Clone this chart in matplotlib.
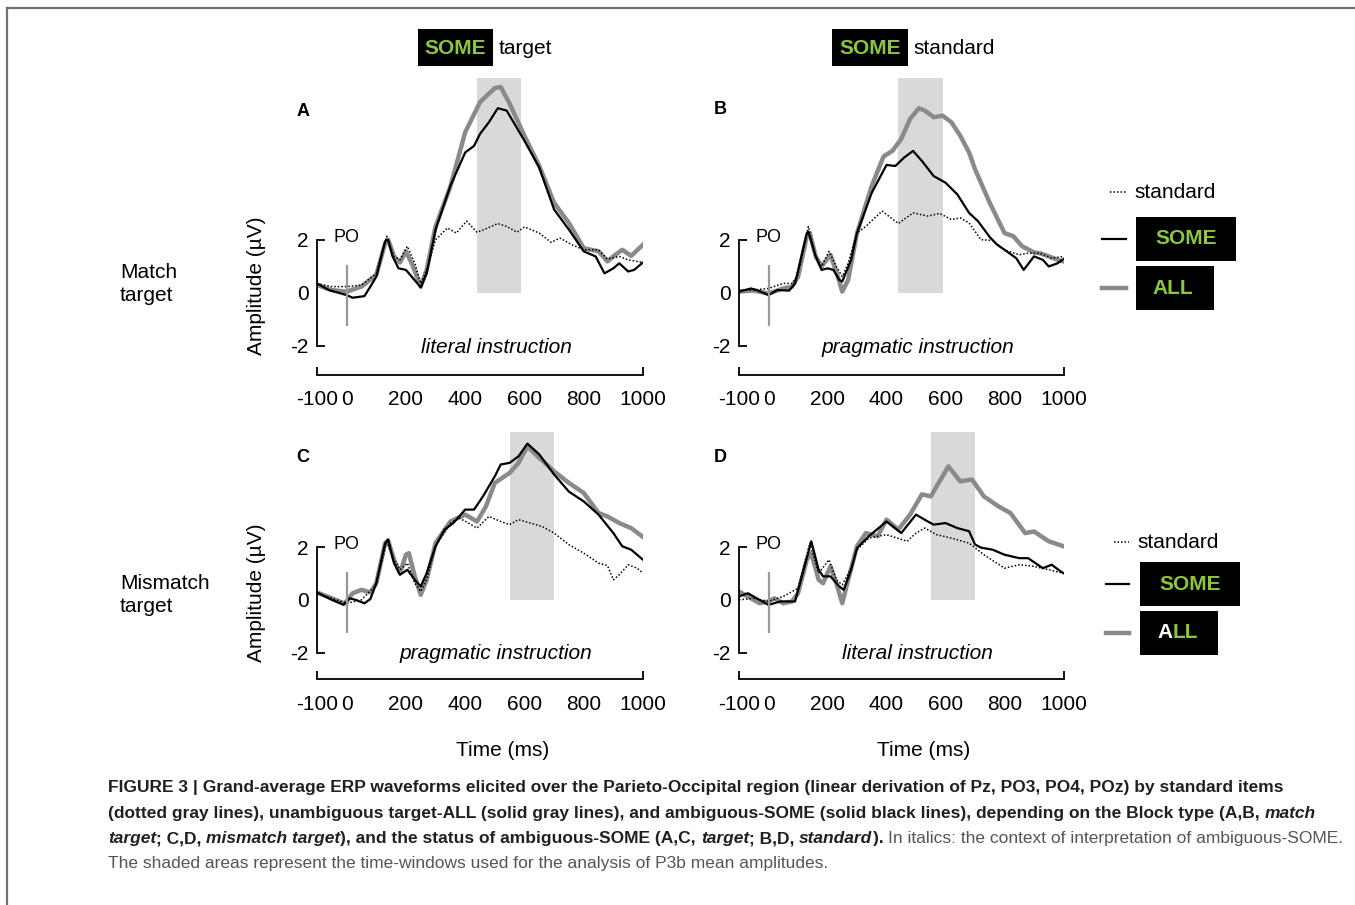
import matplotlib
matplotlib.use('Agg')
import matplotlib.pyplot as plt
from matplotlib.lines import Line2D
from matplotlib.patches import Rectangle
from matplotlib import font_manager

plt.rcParams['font.family'] = ['Liberation Sans', 'DejaVu Sans']

# ---- data (time in ms, amplitude in microvolts) ----
A_all_ms = [-100, -50, 0, 50, 100, 130, 140, 160, 180, 200, 220, 250, 270, 300, 350, 400, 450, 500, 520, 550,
            600, 650, 700, 750, 800, 850, 880, 900, 930, 960, 1000]
A_all_uv = [0.29, 0.1, 0.04, 0.23, 0.67, 1.87, 2.0, 1.37, 1.14, 1.56, 1.1, 0.23, 0.86, 2.5, 4.0, 6.05, 7.19, 7.72, 7.76, 7.13,
            5.92, 4.78, 3.39, 2.63, 1.68, 1.56, 1.18, 1.37, 1.62, 1.39, 1.81]
A_some_ms = [-100, -60, 0, 20, 60, 80, 100, 130, 140, 155, 175, 200, 220, 250, 270, 300, 350, 400, 430, 450,
             480, 510, 540, 560, 600, 650, 700, 750, 800, 840, 870, 900, 920, 950, 970, 1000]
A_some_uv = [0.35, 0.1, -0.09, -0.19, -0.13, 0.23, 0.6, 1.94, 2.0, 1.37, 0.92, 0.86, 0.6, 0.2, 0.73, 2.38, 4.03, 5.29, 5.54, 5.99,
             6.43, 6.96, 6.87, 6.49, 5.73, 4.72, 3.14, 2.38, 1.56, 1.37, 0.73, 0.92, 1.11, 0.8, 0.86, 1.14]
A_std_ms = [-100, -50, 0, 50, 100, 135, 160, 180, 205, 230, 250, 270, 300, 340, 370, 405, 440, 470, 510, 540,
            575, 600, 650, 690, 720, 760, 800, 850, 880, 920, 950, 1000]
A_std_uv = [0.35, 0.23, 0.23, 0.29, 0.73, 2.13, 1.37, 1.24, 1.75, 1.11, 0.35, 0.86, 2.0, 2.44, 2.25, 2.7, 2.28, 2.41, 2.61, 2.5,
            2.28, 2.48, 2.25, 1.9, 2.06, 1.81, 1.62, 1.62, 1.27, 1.37, 1.24, 1.14]

B_all_ms = [-100, -50, 0, 50, 80, 100, 130, 140, 160, 180, 210, 235, 250, 270, 300, 350, 390, 420, 450, 480,
            510, 530, 560, 590, 620, 650, 680, 700, 750, 800, 830, 860, 900, 920, 950, 980, 1000]
B_all_uv = [0.04, 0.08, -0.03, 0.16, 0.23, 0.6, 2.13, 2.25, 1.37, 0.99, 1.43, 0.61, 0.04, 0.48, 2.25, 4.03, 5.14, 5.35, 5.8, 6.56,
            6.96, 6.87, 6.62, 6.68, 6.43, 5.92, 5.29, 4.66, 3.39, 2.25, 2.13, 1.75, 1.52, 1.49, 1.37, 1.24, 1.18]
B_some_ms = [-100, -60, -40, 0, 30, 70, 90, 130, 135, 160, 180, 200, 220, 240, 250, 280, 300, 350, 400, 430,
             460, 490, 520, 560, 600, 640, 680, 710, 750, 775, 800, 840, 865, 900, 930, 950, 980, 1000]
B_some_uv = [0.04, 0.16, 0.1, -0.09, 0.1, 0.08, 0.35, 2.25, 2.3, 1.37, 0.86, 0.92, 0.86, 0.48, 0.42, 1.24, 2.25, 3.77, 4.82, 4.78,
             5.1, 5.35, 4.97, 4.4, 4.15, 3.71, 3.01, 2.7, 2.1, 1.81, 1.62, 1.3, 0.86, 1.37, 1.24, 0.99, 1.11, 1.27]
B_std_ms = [-100, -50, 0, 50, 80, 100, 135, 160, 180, 205, 230, 250, 270, 300, 330, 385, 440, 490, 540, 580,
            620, 650, 680, 720, 760, 800, 850, 880, 920, 960, 1000]
B_std_uv = [0.1, 0.1, 0.16, 0.35, 0.35, 0.67, 2.5, 1.37, 0.99, 1.56, 0.99, 0.61, 1.11, 2.25, 2.5, 3.08, 2.61, 3.01, 2.89, 2.99,
            2.76, 2.82, 2.63, 2.0, 1.97, 1.62, 1.43, 1.49, 1.49, 1.3, 1.37]

C_all_ms = [-100, -50, -10, 0, 20, 50, 80, 100, 130, 140, 160, 180, 200, 210, 230, 250, 270, 300, 350, 400,
            440, 470, 500, 550, 580, 610, 650, 700, 750, 800, 850, 880, 920, 960, 1000]
C_all_uv = [0.28, 0.06, -0.13, -0.06, 0.25, 0.38, 0.28, 0.63, 2.15, 2.25, 1.52, 1.01, 1.71, 1.77, 0.89, 0.19, 0.76, 2.15, 2.97, 3.23,
            2.97, 3.54, 4.43, 4.81, 5.19, 5.82, 5.38, 4.87, 4.43, 4.05, 3.29, 3.16, 2.91, 2.72, 2.38]
C_some_ms = [-100, -50, -10, 10, 30, 60, 80, 100, 130, 140, 160, 180, 205, 230, 250, 270, 300, 330, 360, 400,
             430, 460, 500, 520, 550, 580, 610, 650, 700, 750, 800, 850, 900, 930, 960, 1000]
C_some_uv = [0.28, 0.0, -0.19, 0.06, 0.0, -0.13, 0.03, 0.63, 2.15, 2.28, 1.39, 0.95, 1.14, 0.76, 0.51, 1.01, 2.03, 2.66, 2.91, 3.42,
             3.42, 3.92, 4.68, 5.13, 5.19, 5.44, 5.92, 5.51, 4.75, 4.1, 3.73, 3.23, 2.53, 2.03, 1.9, 1.52]
C_std_ms = [-100, -50, 0, 50, 100, 135, 160, 180, 205, 230, 250, 270, 300, 350, 380, 420, 440, 480, 520, 550,
            580, 620, 660, 700, 750, 800, 850, 880, 900, 920, 950, 980, 1000]
C_std_uv = [0.25, 0.06, -0.13, 0.0, 0.57, 2.22, 1.52, 1.14, 1.39, 0.63, 0.32, 0.76, 2.03, 2.91, 3.1, 2.85, 2.72, 3.16, 2.97, 2.85,
            3.04, 2.91, 2.78, 2.53, 2.09, 1.77, 1.39, 1.3, 0.76, 0.95, 1.33, 1.2, 1.01]

D_all_ms = [-100, -60, -30, 0, 20, 50, 80, 100, 130, 145, 170, 185, 210, 230, 250, 270, 300, 330, 370, 400,
            440, 480, 520, 550, 580, 610, 650, 690, 730, 780, 820, 870, 900, 950, 1000]
D_all_uv = [0.32, 0.06, -0.13, -0.06, 0.06, -0.13, -0.06, 0.25, 1.52, 1.77, 0.76, 0.63, 1.27, 0.63, -0.13, 0.76, 2.03, 2.53, 2.41, 3.04,
            2.66, 3.23, 4.0, 3.92, 4.49, 5.06, 4.49, 4.56, 3.92, 3.54, 3.29, 2.53, 2.59, 2.22, 2.03]
D_some_ms = [-100, -70, -40, 0, 40, 90, 110, 145, 170, 185, 210, 240, 255, 280, 300, 340, 400, 450, 500, 540,
             560, 600, 640, 680, 700, 720, 760, 800, 850, 880, 930, 960, 990, 1000]
D_some_uv = [0.13, 0.25, 0.06, -0.19, -0.06, -0.06, 0.76, 2.22, 1.14, 0.89, 0.89, 0.51, 0.38, 1.14, 1.96, 2.41, 2.97, 2.53, 3.23, 2.97,
             2.85, 2.91, 2.72, 2.6, 2.1, 1.98, 1.9, 1.71, 1.58, 1.58, 1.2, 1.33, 1.08, 1.01]
D_std_ms = [-100, -50, 0, 50, 100, 140, 170, 205, 230, 250, 280, 300, 340, 400, 470, 500, 530, 570, 620, 680,
            730, 800, 850, 900, 950, 1000]
D_std_uv = [0.0, 0.06, -0.06, 0.13, 0.44, 2.15, 1.01, 1.52, 0.76, 0.57, 1.2, 1.9, 2.34, 2.47, 2.22, 2.53, 2.72, 2.47, 2.34, 2.15,
            1.71, 1.2, 1.33, 1.27, 1.14, 1.01]

windows_top = (440, 590)      # P3b window, panels A/B
windows_bottom = (550, 700)   # P3b window, panels C/D
x_ticks = [-100, 0, 200, 400, 600, 800, 1000]
y_ticks = [-2, 0, 2]
instructions = ['literal instruction', 'pragmatic instruction', 'pragmatic instruction', 'literal instruction']

GRAY = '#8a8a8a'
GREEN = '#8cc63f'
W, H = 1355, 905

fig = plt.figure(figsize=(13.55, 9.05), dpi=100)


def fx(x):
    return x / W


def fy(y):
    return 1 - y / H


def panel(left, right, top, bottom, ylim, window, all_ms, all_uv, some_ms, some_uv, std_ms, std_uv, instr):
    ax = fig.add_axes([fx(left), fy(bottom), (right - left) / W, (bottom - top) / H])
    ax.set_facecolor('none')
    ax.set_xlim(-100, 1000)
    ax.set_ylim(*ylim)
    ax.fill_between(list(window), 0, ylim[1], color='#d9d9d9', lw=0, zorder=0)
    ax.plot(all_ms, all_uv, color=GRAY, lw=3.2, solid_joinstyle='round', zorder=2)
    ax.plot(some_ms, some_uv, color='black', lw=1.6, zorder=3)
    ax.plot(std_ms, std_uv, color='black', lw=1.1, ls=(0, (1, 1.3)), zorder=4)
    ax.vlines(0, -1.25, 1.05, color='#999999', lw=1.6, zorder=5)
    ax.text(-45, 2.1, 'PO', fontsize=13, va='center', ha='left')
    ax.text(505, -2.05, instr, fontsize=15, style='italic', ha='center', va='center')
    for s in ['top', 'right']:
        ax.spines[s].set_visible(False)
    ax.spines['left'].set_bounds(-2, 2)
    for s in ['left', 'bottom']:
        ax.spines[s].set_linewidth(1.3)
    ax.xaxis.remove_overlapping_locs = False
    ax.yaxis.remove_overlapping_locs = False
    ax.set_xticks(x_ticks)
    ax.set_xticklabels([str(t) for t in x_ticks])
    ax.set_xticks([-100, 1000], minor=True)
    ax.set_yticks(y_ticks)
    ax.set_yticklabels([str(t) for t in y_ticks])
    ax.set_yticks([-2, 2], minor=True)
    ax.tick_params(axis='x', which='major', length=0, pad=11, labelsize=15)
    ax.tick_params(axis='y', which='major', length=0, pad=6, labelsize=15)
    ax.tick_params(which='minor', direction='in', length=6, width=1.3, labelbottom=False, labelleft=False)
    return ax


top_ylim = (-3.105, 8.10)
bot_ylim = (-3.01, 6.36)
panel(317, 643, 78, 375, top_ylim, windows_top, A_all_ms, A_all_uv, A_some_ms, A_some_uv, A_std_ms, A_std_uv, instructions[0])
panel(739, 1063.5, 78, 375, top_ylim, windows_top, B_all_ms, B_all_uv, B_some_ms, B_some_uv, B_std_ms, B_std_uv, instructions[1])
panel(317, 643, 432, 679.3, bot_ylim, windows_bottom, C_all_ms, C_all_uv, C_some_ms, C_some_uv, C_std_ms, C_std_uv, instructions[2])
panel(739, 1063.5, 432, 679.3, bot_ylim, windows_bottom, D_all_ms, D_all_uv, D_some_ms, D_some_uv, D_std_ms, D_std_uv, instructions[3])

# panel letters
for lbl, x, y in [('A', 303, 111), ('B', 720, 110), ('C', 303, 457), ('D', 720, 457)]:
    fig.text(fx(x), fy(y), lbl, fontsize=13, fontweight='bold', ha='center', va='center')

# row labels and axis titles
fig.text(fx(120), fy(284), 'Match\ntarget', fontsize=15, ha='left', va='center', linespacing=1.3)
fig.text(fx(120), fy(595), 'Mismatch\ntarget', fontsize=15, ha='left', va='center', linespacing=1.3)
fig.text(fx(257), fy(286), 'Amplitude (\u00b5V)', fontsize=15, rotation=90, ha='center', va='center')
fig.text(fx(257), fy(593), 'Amplitude (\u00b5V)', fontsize=15, rotation=90, ha='center', va='center')
fig.text(fx(503), fy(750), 'Time (ms)', fontsize=15, ha='center', va='center')
fig.text(fx(924), fy(750), 'Time (ms)', fontsize=15, ha='center', va='center')


def black_box(x0, x1, y0, y1):
    fig.add_artist(Rectangle((fx(x0), fy(y1)), (x1 - x0) / W, (y1 - y0) / H,
                             transform=fig.transFigure, facecolor='black', edgecolor='none'))


# column headers
black_box(418, 493, 29, 66)
fig.text(fx(455.5), fy(48), 'SOME', fontsize=15, fontweight='bold', color=GREEN, ha='center', va='center')
fig.text(fx(499), fy(48), 'target', fontsize=15, ha='left', va='center')
black_box(832, 908, 29, 66)
fig.text(fx(870), fy(48), 'SOME', fontsize=15, fontweight='bold', color=GREEN, ha='center', va='center')
fig.text(fx(913), fy(48), 'standard', fontsize=15, ha='left', va='center')


def legend(xl0, xl1, xt, y_std, y_some, y_all, box_x0, some_w, all_w, box_h, white_a):
    fig.add_artist(Line2D([fx(xl0 + 8), fx(xl1)], [fy(y_std)] * 2, color='black', lw=1.1, ls=(0, (1, 1.3))))
    fig.text(fx(xt), fy(y_std), 'standard', fontsize=15, ha='left', va='center')
    fig.add_artist(Line2D([fx(xl0), fx(xl1)], [fy(y_some)] * 2, color='black', lw=1.6))
    fig.add_artist(Line2D([fx(xl0), fx(xl1)], [fy(y_all)] * 2, color=GRAY, lw=3.2))
    black_box(box_x0, box_x0 + some_w, y_some - box_h / 2, y_some + box_h / 2)
    fig.text(fx(box_x0 + some_w / 2), fy(y_some), 'SOME', fontsize=15, fontweight='bold', color=GREEN,
             ha='center', va='center')
    black_box(box_x0, box_x0 + all_w, y_all - box_h / 2, y_all + box_h / 2)
    if white_a:
        ta = fig.text(fx(box_x0 + 17), fy(y_all), 'A', fontsize=15, fontweight='bold', color='white',
                      ha='left', va='center')
        fig.canvas.draw()
        bb = ta.get_window_extent(fig.canvas.get_renderer())
        fig.text(bb.x1 / (fig.dpi * fig.get_figwidth()), fy(y_all), 'LL', fontsize=15, fontweight='bold',
                 color=GREEN, ha='left', va='center')
    else:
        fig.text(fx(box_x0 + all_w / 2 - 2), fy(y_all), 'ALL', fontsize=15, fontweight='bold', color=GREEN,
                 ha='center', va='center')


legend(1102, 1126, 1134, 192, 239, 288, 1136, 100, 78, 44, False)
legend(1106, 1129, 1137, 542, 584, 633, 1140, 100, 78, 44, True)

# frame
fig.add_artist(Line2D([fx(7), fx(1355)], [fy(8), fy(8)], color='#707070', lw=1.6))
fig.add_artist(Line2D([fx(7), fx(7)], [fy(8), fy(905)], color='#707070', lw=1.6))

# caption
try:
    font_manager.findfont('Liberation Sans Narrow', fallback_to_default=False)
    cap_family = ['Liberation Sans Narrow', 'Liberation Sans']
except ValueError:
    cap_family = ['Liberation Sans']

DARK = '#231f20'
LIGHT = '#555555'
cap_lines = [
    [('FIGURE 3 | Grand-average ERP waveforms elicited over the Parieto-Occipital region (linear derivation of '
      'Pz, PO3, PO4, POz) by standard items', 'bold', 'normal', DARK)],
    [('(dotted gray lines), unambiguous target-ALL (solid gray lines), and ambiguous-SOME (solid black lines), '
      'depending on the Block type (A,B, ', 'bold', 'normal', DARK),
     ('match', 'bold', 'italic', DARK)],
    [('target', 'bold', 'italic', DARK), ('; C,D, ', 'bold', 'normal', DARK),
     ('mismatch target', 'bold', 'italic', DARK),
     ('), and the status of ambiguous-SOME (A,C, ', 'bold', 'normal', DARK),
     ('target', 'bold', 'italic', DARK), ('; B,D, ', 'bold', 'normal', DARK),
     ('standard', 'bold', 'italic', DARK), ('). ', 'bold', 'normal', DARK),
     ('In italics: the context of interpretation of ambiguous-SOME.', 'normal', 'normal', LIGHT)],
    [('The shaded areas represent the time-windows used for the analysis of P3b mean amplitudes.',
      'normal', 'normal', LIGHT)],
]

renderer = fig.canvas.get_renderer()
probe = fig.text(0, 0, cap_lines[0][0][0], fontsize=10, fontweight='bold', family=cap_family)
w10 = probe.get_window_extent(renderer).width
probe.remove()
cap_fs = 10 * 1172 / w10

baselines = [792, 818, 843, 868]
for pieces, yb in zip(cap_lines, baselines):
    x = 108
    for s, wt, st, col in pieces:
        t = fig.text(fx(x), fy(yb), s, fontsize=cap_fs, fontweight=wt, style=st, color=col,
                     family=cap_family, ha='left', va='baseline')
        x += t.get_window_extent(renderer).width

fig.savefig('out.png', dpi=100)
